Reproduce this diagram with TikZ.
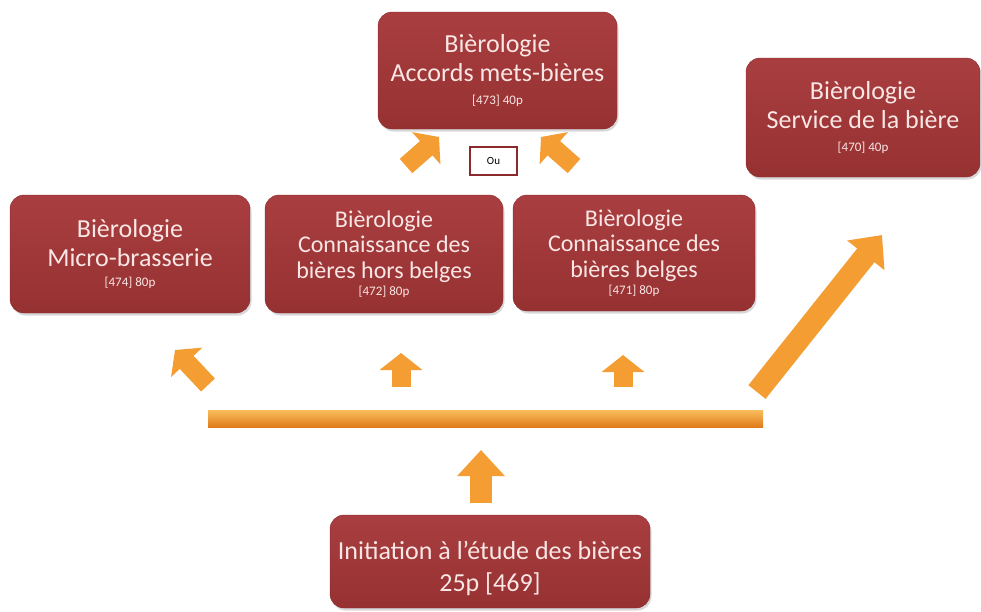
\documentclass[tikz,border=0pt]{standalone}
\usepackage{fontspec}
\setmainfont{Carlito}
\usepackage{tikz}
\usetikzlibrary{arrows.meta}
\usetikzlibrary{shadows}
\definecolor{boxredtop}{HTML}{A93E40}
\definecolor{boxredbot}{HTML}{963132}
\definecolor{boxline}{HTML}{8A2A2D}
\definecolor{boxtext}{HTML}{FAE6E4}
\definecolor{arroworange}{HTML}{F49D32}
\definecolor{arrowlight}{HTML}{F9BE5C}
\definecolor{arrowdark}{HTML}{E07C1C}
\newcommand{\codefont}{\fontsize{13}{15}\selectfont}

\begin{document}
\begin{tikzpicture}[x=1pt, y=-1pt,
		module/.style={rounded corners=14pt, top color=boxredtop, bottom color=boxredbot, draw=boxline, text=boxtext, align=center, inner sep=0pt,
			drop shadow={opacity=0.3, shadow xshift=1.5pt, shadow yshift=-2.5pt}},
		bigtext/.style={font=\fontsize{26}{29}\selectfont},
		midtext/.style={font=\fontsize{24}{25.5}\selectfont},
		smallarrow/.style={draw=arroworange, line width=19pt, -{Triangle[width=42pt 0, length=17pt 0]}},
		bigarrow/.style={draw=arroworange, line width=22pt, -{Triangle[width=46pt 0, length=26pt 0]}}]
			\useasboundingbox (0,0) rectangle (981,611);
			\fill[white] (0,0) rectangle (981,611);
			\node[module, bigtext, minimum width=239pt, minimum height=117pt] (m473) at (497.5,70.5) {Bièrologie\\Accords mets-bières\\[-6pt]{\codefont [473] 40p}};
			\node[module, bigtext, minimum width=234pt, minimum height=119pt] (m470) at (863,117.5) {Bièrologie\\Service de la bière\\[-6pt]{\codefont [470] 40p}};
			\node[module, bigtext, minimum width=240pt, minimum height=118pt] (m474) at (130,254) {Bièrologie\\Micro-brasserie\\[-9pt]{\codefont [474] 80p}};
			\node[module, midtext, minimum width=238pt, minimum height=118pt] (m472) at (384,254) {Bièrologie\\Connaissance des\\bières hors belges\\[-8pt]{\codefont [472] 80p}};
			\node[module, midtext, minimum width=242pt, minimum height=116pt] (m471) at (634,253) {Bièrologie\\Connaissance des\\bières belges\\[-8pt]{\codefont [471] 80p}};
			\node[module, font=\fontsize{26}{32}\selectfont, minimum width=320pt, minimum height=93pt] (m469) at (490,561.5) {\rule{0pt}{33pt}Initiation à l’étude des bières\\25p [469]};
			\node[draw=boxline, line width=1.5pt, fill=white, font=\fontsize{11}{13}\selectfont, minimum width=47pt, minimum height=28pt, inner sep=0pt] (ou) at (493.5,161) {Ou};
			\node[top color=arrowlight, bottom color=arrowdark, minimum width=555pt, minimum height=17pt, inner sep=0pt] (track) at (485.5,418.5) {};
			\coordinate (t473l) at (406,166);
			\coordinate (h473l) at (439,137);
			\coordinate (t473r) at (574,166);
			\coordinate (h473r) at (541,137);
			\coordinate (t474) at (208,385);
			\coordinate (h474) at (175,350);
			\coordinate (t472) at (401,387);
			\coordinate (h472) at (401,353);
			\coordinate (t471) at (623,387);
			\coordinate (h471) at (623,355);
			\coordinate (t470) at (757,392);
			\coordinate (h470) at (882,235);
			\coordinate (t469) at (481,503);
			\coordinate (h469) at (481,450);
			\draw[smallarrow] (t473l) -- (h473l);
			\draw[smallarrow] (t473r) -- (h473r);
			\draw[smallarrow] (t474) -- (h474);
			\draw[smallarrow] (t472) -- (h472);
			\draw[smallarrow] (t471) -- (h471);
			\draw[bigarrow] (t470) -- (h470);
			\draw[bigarrow] (t469) -- (h469);
		\end{tikzpicture}
\end{document}
